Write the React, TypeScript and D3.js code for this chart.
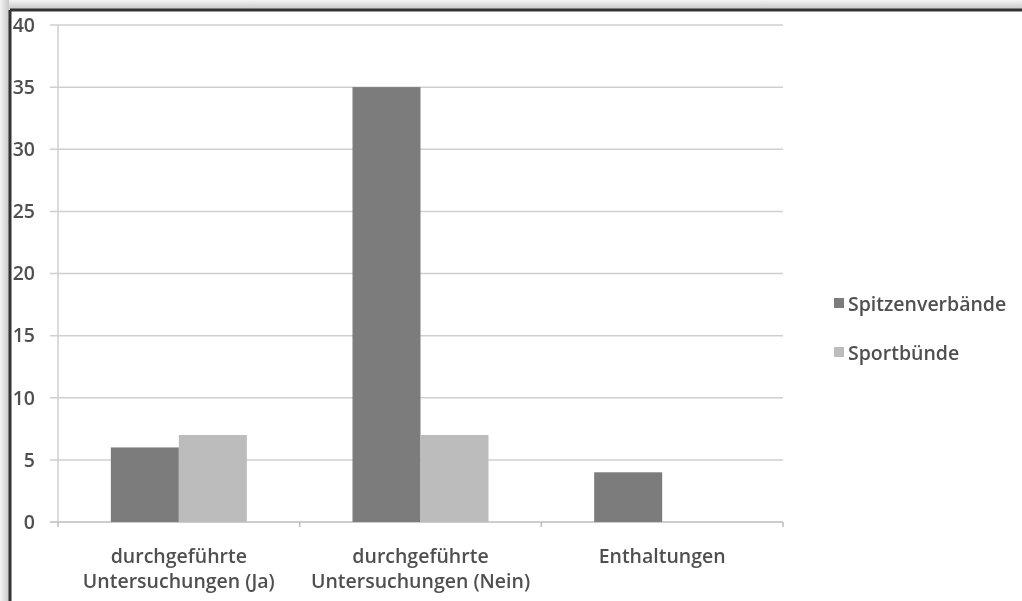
import React from "react";
import * as d3 from "d3";

const categories = [
  ["durchgeführte", "Untersuchungen (Ja)"],
  ["durchgeführte", "Untersuchungen (Nein)"],
  ["Enthaltungen"],
];
const seriesNames = ["Spitzenverbände", "Sportbünde"];
const spitzenverbaende = [6, 35, 4];
const sportbuende = [7, 7, 0];
const yTicks = [0, 5, 10, 15, 20, 25, 30, 35, 40];

const colors = ["#7b7b7b", "#bcbcbc"];

export default function App() {
  const W = 1022, H = 601;
  const left = 58, right = 783, top = 25, bottom = 522;
  const y = d3.scaleLinear().domain([0, 40]).range([bottom, top]);
  const x = d3.scaleBand().domain(categories.map((_, i) => String(i))).range([left, right]).paddingInner(0).paddingOuter(0);
  const bw = 68;
  const series = [spitzenverbaende, sportbuende];
  const font = "'Open Sans', 'DejaVu Sans', sans-serif";
  const fs = 19.5;
  const fw = 600;
  const tc = "#505050";
  return (
    <svg width={W} height={H} style={{ position: "absolute", left: 0, top: 0 }}>
      <defs>
        <linearGradient id="topShade" x1="0" y1="0" x2="0" y2="1">
          <stop offset="0" stopColor="#f4f4f4" />
          <stop offset="1" stopColor="#c8c8c8" />
        </linearGradient>
        <linearGradient id="leftShade" x1="0" y1="0" x2="1" y2="0">
          <stop offset="0" stopColor="#f4f4f4" />
          <stop offset="1" stopColor="#c8c8c8" />
        </linearGradient>
        <filter id="soft" x="-5%" y="-5%" width="110%" height="110%">
          <feGaussianBlur stdDeviation="0.6" />
        </filter>
      </defs>
      <rect x={0} y={0} width={W} height={H} fill="#f2f2f2" />
      <rect x={0} y={0} width={W} height={9} fill="url(#topShade)" />
      <rect x={0} y={0} width={9} height={H} fill="url(#leftShade)" />
      <rect x={9} y={9} width={W} height={H} fill="#ffffff" />
      <g filter="url(#soft)">
        {yTicks.map((t) => (
          <g key={t}>
            <line x1={left - 8} x2={right} y1={y(t)} y2={y(t)} stroke={t === 0 ? "#bdbdbd" : "#cfcfcf"} strokeWidth={1.5} />
            <text x={35} y={y(t)} dy="0.35em" textAnchor="end" fontFamily={font} fontSize={fs} fontWeight={fw} fill={tc}>{t}</text>
          </g>
        ))}
        <line x1={left} x2={left} y1={top} y2={bottom} stroke="#cfcfcf" strokeWidth={1.5} />
        {[0, 1, 2, 3].map((i) => {
          const xx = i < 3 ? x(String(i))! : right;
          return <line key={i} x1={xx} x2={xx} y1={bottom} y2={bottom + 5} stroke="#bdbdbd" strokeWidth={1.5} />;
        })}
        {categories.map((c, i) => {
          const cx = x(String(i))! + x.bandwidth() / 2;
          return series.map((s, j) => {
            const v = s[i];
            if (!v) return null;
            const bx = cx - bw + j * bw;
            return <rect key={`${i}-${j}`} x={bx} y={y(v)} width={bw} height={y(0) - y(v)} fill={colors[j]} />;
          });
        })}
        {categories.map((c, i) => {
          const cx = x(String(i))! + x.bandwidth() / 2;
          return (
            <text key={i} x={cx} y={556} textAnchor="middle" fontFamily={font} fontSize={fs} fontWeight={fw} fill={tc}>
              {c.map((line, k) => (
                <tspan key={k} x={cx} dy={k === 0 ? "0.35em" : 25}>{line}</tspan>
              ))}
            </text>
          );
        })}
        {seriesNames.map((n, j) => (
          <g key={n} transform={`translate(834, ${304 + j * 49})`}>
            <rect x={0} y={-6} width={10} height={10} fill={colors[j]} />
            <text x={14} y={0} dy="0.35em" fontFamily={font} fontSize={fs} fontWeight={fw} fill={tc}>{n}</text>
          </g>
        ))}
      </g>
      <line x1={10} x2={W} y1={10} y2={10} stroke="#333" strokeWidth={3} />
      <line x1={10} x2={10} y1={10} y2={H} stroke="#333" strokeWidth={3} />
    </svg>
  );
}
